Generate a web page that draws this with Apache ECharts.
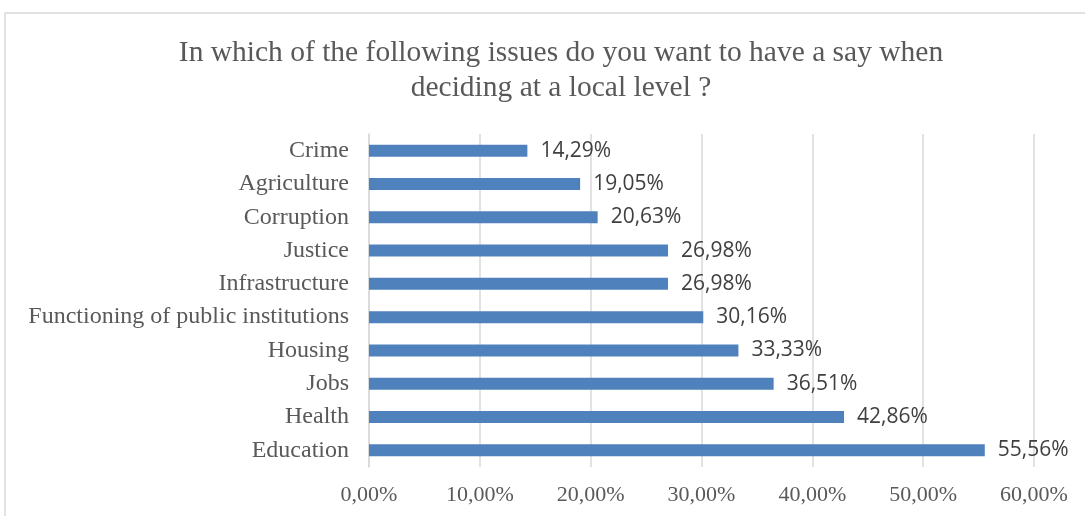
<!DOCTYPE html>
<html>
<head>
<meta charset="utf-8">
<script src="https://cdn.jsdelivr.net/npm/echarts@6/dist/echarts.min.js"></script>
<style>
  html, body { margin: 0; padding: 0; background: #fff; }
  #chart { width: 1085px; height: 516px; }
</style>
</head>
<body>
<div id="chart"></div>
<script>
// data, bottom to top as on the category axis
var categories = ['Education', 'Health', 'Jobs', 'Housing', 'Functioning of public institutions',
    'Infrastructure', 'Justice', 'Corruption', 'Agriculture', 'Crime'];
var values = [55.56, 42.86, 36.51, 33.33, 30.16, 26.98, 26.98, 20.63, 19.05, 14.29];
var tickLabels = ['0,00%', '10,00%', '20,00%', '30,00%', '40,00%', '50,00%', '60,00%'];

var myChart = echarts.init(document.getElementById('chart'));
option = {
    backgroundColor: '#fff',
    animation: false,
    title: {
        text: 'In which of the following issues do you want to have a say when\ndeciding at a local level ?',
        left: 556,
        textAlign: 'center',
        top: 31,
        textStyle: {
            fontFamily: 'Liberation Serif',
            fontWeight: 'normal',
            fontSize: 29.5,
            lineHeight: 35,
            color: '#595959'
        }
    },
    graphic: [{
        type: 'rect',
        shape: { x: 5, y: 13, width: 1200, height: 600 },
        style: { fill: 'none', stroke: '#d9d9d9', lineWidth: 1.5 }
    }],
    grid: {
        left: 369,
        right: 51,
        top: 134,
        bottom: 49
    },
    xAxis: {
        type: 'value',
        min: 0,
        max: 60,
        interval: 10,
        axisLine: { show: false },
        axisTick: { show: false },
        splitLine: { lineStyle: { color: '#d9d9d9', width: 1.5 } },
        axisLabel: {
            margin: 17,
            fontFamily: 'Liberation Serif',
            fontSize: 22,
            color: '#595959',
            formatter: function (v) { return tickLabels[Math.round(v / 10)]; }
        }
    },
    yAxis: {
        type: 'category',
        data: categories,
        axisLine: { lineStyle: { color: '#d9d9d9', width: 1.5 } },
        axisTick: { show: false },
        axisLabel: {
            margin: 20,
            fontFamily: 'Liberation Serif',
            fontSize: 24,
            color: '#595959'
        }
    },
    series: [{
        type: 'bar',
        data: values,
        barWidth: 12,
        itemStyle: { color: '#4f81bd' },
        label: {
            show: true,
            position: 'right',
            distance: 13,
            fontFamily: 'Open Sans',
            fontSize: 21,
            color: '#404040',
            formatter: function (p) { return p.value.toFixed(2).replace('.', ',') + '%'; }
        }
    }]
};
myChart.setOption(option);
</script>
</body>
</html>
